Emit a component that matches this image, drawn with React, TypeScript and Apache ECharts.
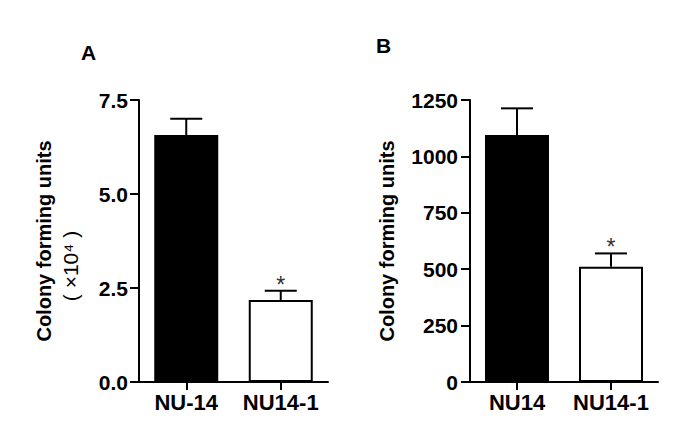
import React, { useEffect, useRef } from "react";
import * as echarts from "echarts";

const categoriesA = ["NU-14", "NU14-1"];
const meansA = [6.57, 2.18];
const errorsA = [0.43, 0.25];
const sigA = ["", "*"];

const categoriesB = ["NU14", "NU14-1"];
const meansB = [1095, 511];
const errorsB = [118, 59];
const sigB = ["", "*"];

const barColors = ["#000000", "#ffffff"];
const FONT = "'Liberation Sans', Arial, Helvetica, sans-serif";

function errorRender(sigs: string[]) {
  return (params: any, api: any) => {
    const idx = api.value(0);
    const mean = api.value(1);
    const err = api.value(2);
    const base = api.coord([idx, mean]);
    const top = api.coord([idx, mean + err]);
    const children: any[] = [
      {
        type: "line",
        shape: { x1: base[0], y1: base[1], x2: top[0], y2: top[1] },
        style: { stroke: "#000", lineWidth: 2 },
      },
      {
        type: "line",
        shape: { x1: top[0] - 16, y1: top[1], x2: top[0] + 16, y2: top[1] },
        style: { stroke: "#000", lineWidth: 2 },
      },
    ];
    const s = sigs[params.dataIndex];
    if (s) {
      children.push({
        type: "text",
        style: {
          text: s,
          x: top[0],
          y: top[1] - 6,
          align: "center",
          verticalAlign: "middle",
          fontSize: 23,
          fontFamily: FONT,
          fill: "#333",
        },
      });
    }
    return { type: "group", children };
  };
}

export default function App() {
  const ref = useRef<HTMLDivElement>(null);
  useEffect(() => {
    document.body.style.margin = "0";
    if (!ref.current) return;
    const chart = echarts.init(ref.current, undefined, { renderer: "svg" });
    const axisLine = { show: true, lineStyle: { color: "#000", width: 2 } };
    const xAxisCommon = (cats: string[], gridIndex: number) => ({
      type: "category",
      gridIndex,
      data: cats,
      axisLine,
      axisTick: { show: true, alignWithLabel: true, interval: 0, length: 8, lineStyle: { color: "#000", width: 2 } },
      axisLabel: { interval: 0, color: "#000", fontSize: 22, fontWeight: "bold", fontFamily: FONT, margin: 9, hideOverlap: false },
      splitLine: { show: false },
    });
    const option: any = {
      animation: false,
      backgroundColor: "#ffffff",
      grid: [
        { left: 139, width: 189, top: 100, height: 282 },
        { left: 470, width: 188, top: 100, height: 282 },
      ],
      xAxis: [xAxisCommon(categoriesA, 0), xAxisCommon(categoriesB, 1)],
      yAxis: [
        {
          type: "value",
          gridIndex: 0,
          min: 0,
          max: 7.5,
          interval: 2.5,
          axisLine,
          axisTick: { show: true, length: 9, lineStyle: { color: "#000", width: 2 } },
          axisLabel: {
            color: "#000",
            fontSize: 21,
            fontWeight: "bold",
            fontFamily: FONT,
            margin: 11,
            formatter: (v: number) => v.toFixed(1),
          },
          splitLine: { show: false },
          name: "{b|Colony forming units}\n{n|( ×10⁴ )}",
          nameLocation: "middle",
          nameRotate: 90,
          nameGap: 55,
          nameTextStyle: {
            rich: {
              b: { fontSize: 20, fontWeight: "bold", fontFamily: FONT, color: "#000", lineHeight: 27 },
              n: { fontSize: 21, fontFamily: FONT, color: "#000", lineHeight: 27, padding: [0, 50, 0, 0] },
            },
          },
        },
        {
          type: "value",
          gridIndex: 1,
          min: 0,
          max: 1250,
          interval: 250,
          axisLine,
          axisTick: { show: true, length: 9, lineStyle: { color: "#000", width: 2 } },
          axisLabel: {
            color: "#000",
            fontSize: 21,
            fontWeight: "bold",
            fontFamily: FONT,
            margin: 12,
            formatter: (v: number) => String(v),
          },
          splitLine: { show: false },
          name: "Colony forming units",
          nameLocation: "middle",
          nameRotate: 90,
          nameGap: 73,
          nameTextStyle: { fontSize: 20, fontWeight: "bold", fontFamily: FONT, color: "#000" },
        },
      ],
      graphic: [
        { type: "text", left: 81, top: 42, style: { text: "A", fontSize: 21, fontWeight: "bold", fontFamily: FONT, fill: "#000" } },
        { type: "text", left: 376, top: 35, style: { text: "B", fontSize: 21, fontWeight: "bold", fontFamily: FONT, fill: "#000" } },
      ],
      series: [
        {
          type: "bar",
          xAxisIndex: 0,
          yAxisIndex: 0,
          barWidth: 64,
          data: meansA.map((v, i) => ({ value: v, itemStyle: { color: barColors[i], borderColor: "#000", borderWidth: 2 } })),
        },
        {
          type: "custom",
          xAxisIndex: 0,
          yAxisIndex: 0,
          renderItem: errorRender(sigA),
          data: meansA.map((v, i) => [i, v, errorsA[i]]),
          z: 5,
        },
        {
          type: "bar",
          xAxisIndex: 1,
          yAxisIndex: 1,
          barWidth: 64,
          data: meansB.map((v, i) => ({ value: v, itemStyle: { color: barColors[i], borderColor: "#000", borderWidth: 2 } })),
        },
        {
          type: "custom",
          xAxisIndex: 1,
          yAxisIndex: 1,
          renderItem: errorRender(sigB),
          data: meansB.map((v, i) => [i, v, errorsB[i]]),
          z: 5,
        },
      ],
    };
    chart.setOption(option);
    return () => chart.dispose();
  }, []);
  return <div ref={ref} style={{ width: 685, height: 438 }} />;
}
